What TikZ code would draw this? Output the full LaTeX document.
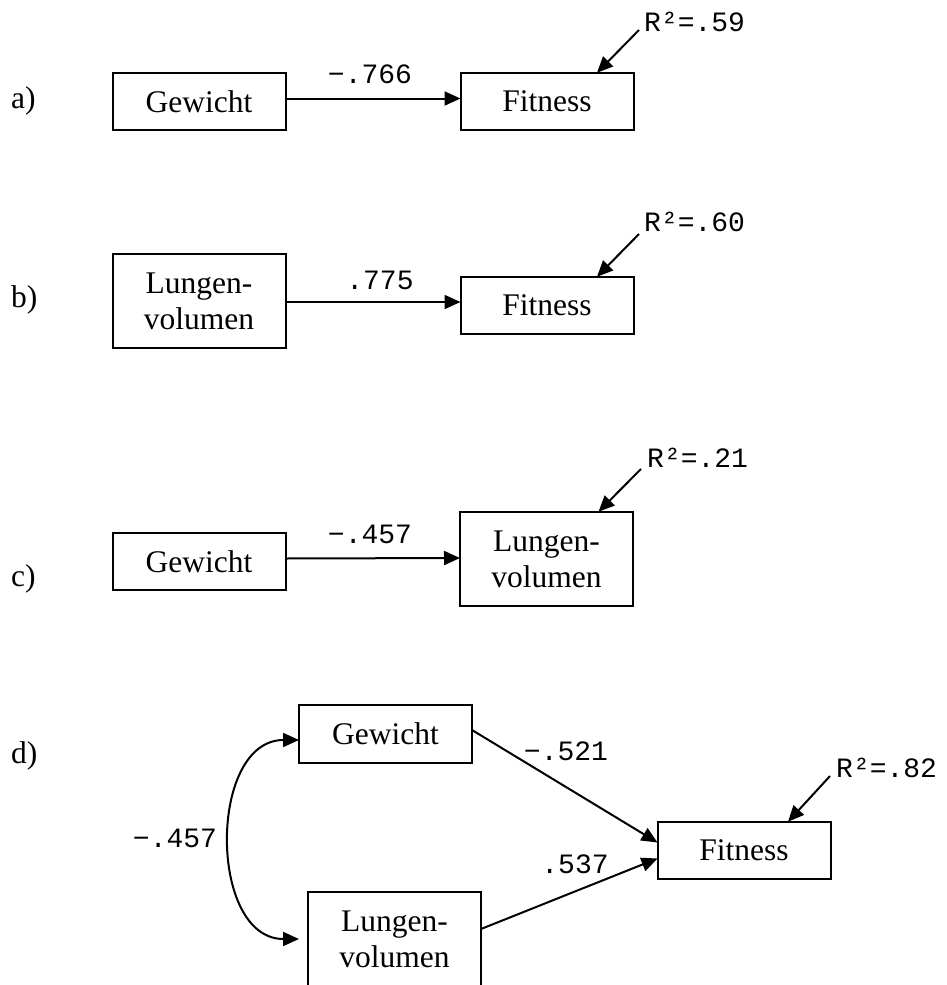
\documentclass[tikz,border=0pt]{standalone}
\usepackage{fontspec}
\setmainfont{Liberation Serif}
\newfontfamily\monofont{Liberation Mono}
\usetikzlibrary{arrows.meta}
\begin{document}
\begin{tikzpicture}[x=1pt,y=-1pt,
  box/.style={draw=black,line width=2pt,inner sep=0pt,outer sep=0pt,
    minimum width=173pt,minimum height=57.5pt,
    font=\fontsize{31.5}{36}\selectfont,align=center},
  tallbox/.style={box,minimum height=94.5pt},
  conn/.style={line width=2pt,-{Triangle[length=16pt,width=14pt]}},
  biconn/.style={line width=2pt,{Triangle[length=16pt,width=14pt]}-{Triangle[length=16pt,width=14pt]}},
  coef/.style={font=\monofont\fontsize{28}{32}\selectfont,inner sep=0pt,anchor=base},
  rsq/.style={font=\monofont\fontsize{28}{32}\selectfont,inner sep=0pt,anchor=base west},
  panel/.style={font=\fontsize{31.5}{36}\selectfont,inner sep=0pt,anchor=base west}]
\useasboundingbox (0,0) rectangle (946,985);

% panel labels
\node[panel] (pa) at (11,108) {a)};
\node[panel] (pb) at (11,307) {b)};
\node[panel] (pc) at (11,586) {c)};
\node[panel] (pd) at (11,763) {d)};

% a)
\node[box] (ga) at (199,101.5) {Gewicht};
\node[box] (fa) at (547,101.5) {Fitness};
\draw[conn] ([yshift=3pt]ga.east) -- ([yshift=3pt]fa.west);
\node[coef] (ca) at (370,83) {−.766};
\node[rsq] (ra) at (644,31) {R²=.59};
\coordinate (sa) at (639,30);
\draw[conn] (sa) -- ([xshift=50pt]fa.north);

% b)
\node[tallbox] (lb) at (199,301) {Lungen-\\volumen};
\node[box] (fb) at (547,305.5) {Fitness};
\draw[conn] ([yshift=-1pt]lb.east) -- ([yshift=3.5pt]fb.west);
\node[coef] (cb) at (380,289) {.775};
\node[rsq] (rb) at (644,231) {R²=.60};
\coordinate (sb) at (639,234);
\draw[conn] (sb) -- ([xshift=50pt]fb.north);

% c)
\node[box] (gc) at (199,561.5) {Gewicht};
\node[tallbox] (lc) at (546.5,559) {Lungen-\\volumen};
\draw[conn] ([yshift=3pt]gc.east) -- ([yshift=1pt]lc.west);
\node[coef] (cc) at (370,543) {−.457};
\node[rsq] (rc) at (647,467) {R²=.21};
\coordinate (sc) at (641,469);
\draw[conn] (sc) -- ([xshift=52pt]lc.north);

% d)
\node[box] (gd) at (385.5,734) {Gewicht};
\node[tallbox] (ld) at (394.5,939) {Lungen-\\volumen};
\node[box] (fd) at (744,850.5) {Fitness};
\draw[biconn] ([xshift=-9pt]ld.west) .. controls (208,939) and (208,740) .. ([yshift=-6pt]gd.west);
\node[coef] (cd) at (175,847) {−.457};
\draw[conn] ([yshift=4pt]gd.east) -- ([yshift=8pt]fd.west);
\draw[conn] ([yshift=10pt]ld.east) -- ([yshift=-8pt]fd.west);
\node[coef] (cd1) at (566,760) {−.521};
\node[coef] (cd2) at (575,873) {.537};
\node[rsq] (rd) at (836,777) {R²=.82};
\coordinate (sd) at (830,776);
\draw[conn] (sd) -- ([xshift=44pt]fd.north);
\end{tikzpicture}
\end{document}
